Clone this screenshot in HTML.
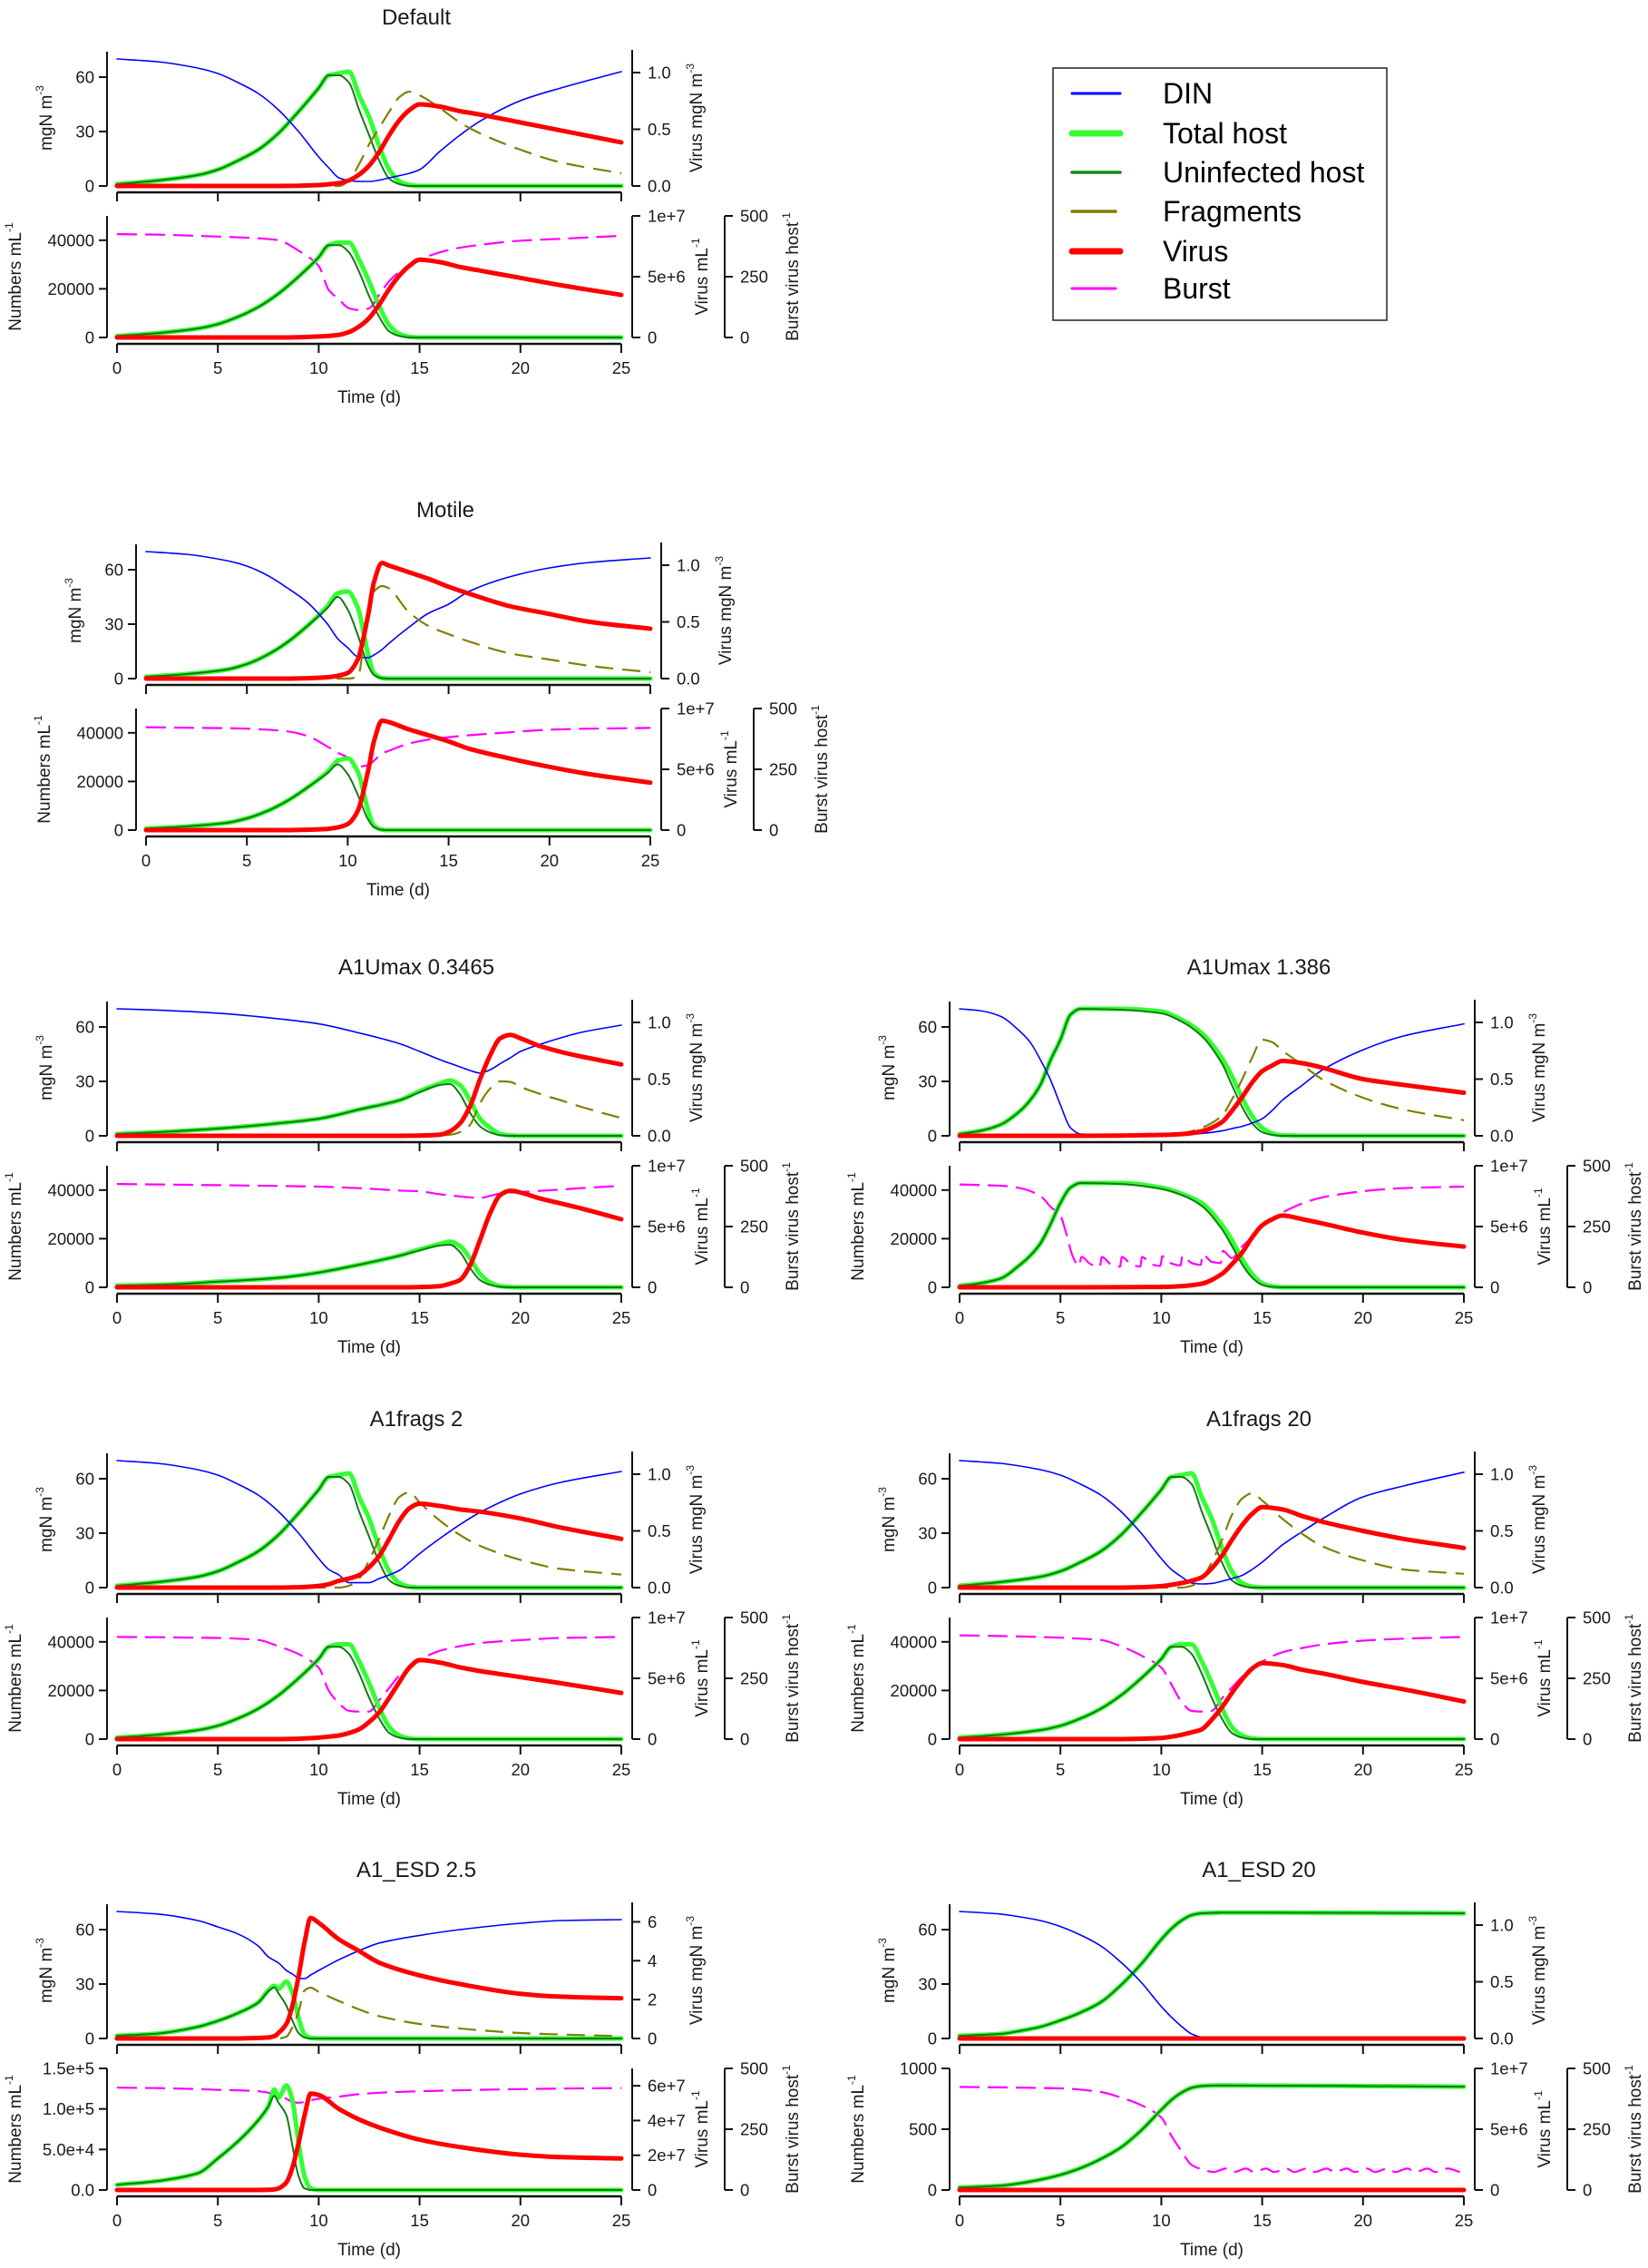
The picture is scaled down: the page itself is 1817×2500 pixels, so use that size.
<!DOCTYPE html>
<html><head><meta charset="utf-8"><title>Virus-host model scenarios</title>
<style>
html,body{margin:0;padding:0;background:#fff;}
svg{display:block;font-family:"Liberation Sans",Arial,sans-serif;}
</style></head>
<body>
<svg id="fig" xmlns="http://www.w3.org/2000/svg" width="1817" height="2500" viewBox="0 0 1817 2500">
<rect x="0" y="0" width="1817" height="2500" fill="#fff"/>
<g>
<rect x="1161" y="75" width="368" height="278" fill="none" stroke="#222" stroke-width="1.5"/>
<line x1="1182" y1="103" x2="1235" y2="103" stroke="#0000ff" stroke-width="3" stroke-linecap="round"/>
<text x="1282" y="114" font-size="32">DIN</text>
<line x1="1182" y1="147" x2="1235" y2="147" stroke="#33ff33" stroke-width="7" stroke-linecap="round"/>
<text x="1282" y="158" font-size="32">Total host</text>
<line x1="1182" y1="190" x2="1235" y2="190" stroke="#168a16" stroke-width="3.5" stroke-linecap="round"/>
<text x="1282" y="201" font-size="32">Uninfected host</text>
<line x1="1182" y1="233" x2="1230" y2="233" stroke="#808000" stroke-width="3.5" stroke-linecap="round"/>
<text x="1282" y="244" font-size="32">Fragments</text>
<line x1="1182" y1="277" x2="1235" y2="277" stroke="#ff0000" stroke-width="7" stroke-linecap="round"/>
<text x="1282" y="288" font-size="32">Virus</text>
<line x1="1182" y1="318" x2="1230" y2="318" stroke="#ff00ff" stroke-width="3" stroke-linecap="round"/>
<text x="1282" y="329" font-size="32">Burst</text>
</g>
</svg>
<script>
// ===== DATA =====
// Default
var def_t = [0,2,4,5,6,7,8,9,10,10.5,11,11.5,12,12.5,13,13.5,14,14.5,15,16,17,18,20,22,25];
var def_din = [70,68.5,65,62,57,51,42,30,16,10,4.5,3,2.5,2.5,3.2,4.5,5.7,7,9,19,28,35.7,47,54,63];
var def_host = [1,3,6,9,14,20,29,41,54,61,62,63,50,38,22,9,2.5,0.5,0,0,0,0,0,0,0];
var def_uninf = [1,3,6,9,14,20,29,41,54,61,61,57,42,28,14,4,1,0,0,0,0,0,0,0,0];
var def_frag = [0,0,0,0,0,0,0,0,0,0,0,3,12,23,32,41,49,52,50,43,35,29,20,13,7];
var def_virus = [0,0,0,0,0,0,0,0.002,0.008,0.015,0.025,0.05,0.1,0.18,0.3,0.45,0.58,0.67,0.72,0.7,0.66,0.63,0.56,0.49,0.385];
var def_hostN = [600,1800,3700,5500,8500,12500,18000,25000,33000,38000,39000,39000,32000,23000,13000,5000,1500,300,0,0,0,0,0,0,0];
var def_uninfN = [600,1800,3700,5500,8500,12500,18000,25000,33000,38000,38000,35000,27000,17000,8500,2500,600,0,0,0,0,0,0,0,0];
var def_virusN = [0,0,0,0,0,0,0,2e4,8e4,1.3e5,2.2e5,4.5e5,9e5,1.6e6,2.7e6,4e6,5.1e6,5.9e6,6.4e6,6.2e6,5.8e6,5.5e6,4.9e6,4.3e6,3.5e6];
var def_burst = [425,423,418,415,412,408,400,357,294,195,157,120,113,120,176,232,270,294,319,350,369,381,398,406,418];

// Motile
var mot_t = [0,2,4,5,6,7,8,9,9.5,10,10.5,11,11.3,11.7,12,13,14,15,16,18,20,22,25];
var mot_din = [70,68.5,65,62,57,50,42,30,22,17,12,11.5,13,16,19,28,36,41,48,56,61,64,66.5];
var mot_host = [1,2.5,5,8,13,20,29,40,47,48,39,14,3,0.3,0,0,0,0,0,0,0,0,0];
var mot_uninf = [1,2.5,5,8,13,20,29,39,45,38,24,7.5,2,0.2,0,0,0,0,0,0,0,0,0];
var mot_frag = [0,0,0,0,0,0,0,0,0,0,1,38,48,51,50,37,29,24.5,20.5,14,10.5,7,3.5];
var mot_virus = [0,0,0,0,0,0,0.003,0.012,0.025,0.05,0.17,0.55,0.85,1.02,1.0,0.94,0.88,0.81,0.75,0.64,0.57,0.5,0.44];
var mot_hostN = [600,1500,3000,4800,7800,12000,17500,24000,28500,29500,24000,8500,1800,200,0,0,0,0,0,0,0,0,0];
var mot_uninfN = [600,1500,3000,4800,7800,12000,17500,23500,27000,23000,14500,4500,1200,100,0,0,0,0,0,0,0,0,0];
var mot_virusN = [0,0,0,0,0,0,3e4,1e5,2.2e5,5e5,1.6e6,4.8e6,7.3e6,9e6,8.9e6,8.3e6,7.8e6,7.3e6,6.7e6,5.9e6,5.2e6,4.6e6,3.9e6];
var mot_burst = [423,421,419,417,413,406,387,343,318,299,261,267,285,315,325,355,372,382,390,402,413,417,420];

// A1Umax 0.3465
var u1_t = [0,2,5,8,10,12,14,15,16,16.5,17,17.5,18,18.5,19,19.5,20,21,22,23,25];
var u1_din = [70,69.3,67.6,64.5,61.7,56.7,50.8,46.5,42,40,38,36,34.6,36.4,39.8,43,46.5,50.5,54,57,61];
var u1_host = [1,2,4,6.9,9.4,14.5,19.6,24.6,28.8,30.5,28,19.6,9.4,4.4,1,0.2,0,0,0,0,0];
var u1_uninf = [1,2,4,6.9,9.4,14.5,19.6,24,28,28.5,23,12.8,5.2,1.9,0.3,0,0,0,0,0,0];
var u1_frag = [0,0,0,0,0,0,0,0,0.2,0.6,2,6,18,26,30,29.7,27,23,19.6,16,9.8];
var u1_virus = [0,0,0,0,0,0,0,0.002,0.01,0.04,0.11,0.26,0.5,0.71,0.86,0.89,0.86,0.79,0.74,0.7,0.63];
var u1_hostN = [700,1000,2300,3900,6100,9300,13000,15600,17800,18800,17000,12000,5500,2000,500,100,0,0,0,0,0];
var u1_uninfN = [700,1000,2300,3900,6100,9300,13000,15200,17200,17500,14500,8000,3000,1000,200,0,0,0,0,0,0];
var u1_virusN = [0,0,0,0,0,0,0,2e4,1e5,3e5,6e5,1.8e6,3.9e6,6.1e6,7.6e6,7.95e6,7.8e6,7.3e6,6.9e6,6.5e6,5.6e6];
var u1_burst = [425,423,420,417,414,408,398,395,383,378,374,370,368,376,386,389,392,397,402,408,417];

// A1Umax 1.386
var u2_t = [0,1,2,3,3.5,4,4.5,5,5.5,6,8,10,11,12,13,13.5,14,14.5,15,15.5,16,17,18,20,22,25];
var u2_din = [70,69,66,57.5,51.6,42,31,17,4.4,1,0.5,0.5,0.8,1.3,2.7,4,5.2,7,9.4,14,19.6,28,36.4,47.4,55,61.7];
var u2_host = [1,2.7,6,13.7,19.6,28,41.5,53,66.8,70,70,68.5,64,56.7,43,33,21,11,4.4,1.3,0.3,0,0,0,0,0];
var u2_uninf = [1,2.7,6,13.7,19.6,28,41.5,53,66.8,70,69.5,67.5,63,55,40,28,16,7,2,0.5,0,0,0,0,0,0];
var u2_frag = [0,0,0,0,0,0,0,0,0,0,0,0.2,1.3,4.4,11,20,31,43,53,51.6,47,39,31,21,14.5,8.6];
var u2_virus = [0,0,0,0,0,0,0,0,0,0,0.002,0.008,0.015,0.04,0.12,0.22,0.34,0.47,0.57,0.62,0.66,0.64,0.6,0.5,0.45,0.38];
var u2_hostN = [600,1650,3500,9300,13000,18000,25800,34700,41000,42900,42900,41000,38500,34700,25800,19400,11800,5500,1650,400,0,0,0,0,0,0];
var u2_uninfN = [600,1650,3500,9300,13000,18000,25800,34700,41000,42900,42500,40500,38000,33500,24000,17000,9500,4000,1000,200,0,0,0,0,0,0];
var u2_virusN = [0,0,0,0,0,0,0,0,0,0,1e4,3e4,1e5,3e5,1.1e6,1.9e6,2.85e6,4.1e6,5.1e6,5.6e6,5.9e6,5.6e6,5.25e6,4.5e6,3.9e6,3.35e6];
var u2_bt = [0,2,3,4,4.5,5,5.3,5.6,5.9,6.05,6.5,6.95,7.05,7.5,7.95,8.05,8.5,8.95,9.05,9.5,9.95,10.05,10.5,10.95,11.05,11.5,11.95,12.05,12.5,12.95,13.05,13.5,14,14.5,15,16,17,18,20,22,25];
var u2_burst = [423,418,408,376,332,294,218,130,88,125,95,85,125,95,85,125,95,85,125,95,88,128,98,90,130,100,92,135,105,100,150,120,168,206,256,307,345,370,395,408,414];

// A1frags 2
var f2_t = [0,2,4,5,6,7,8,9,10,10.5,11,11.5,12,12.5,13,13.5,14,14.5,15,16,17,18,20,22,25];
var f2_din = [70,68.5,65,62,57,51,42,30,16,10,7,2.7,2.7,2.7,5,7,9.5,14,18.7,27,34.7,41.5,51.6,58,64];
var f2_host = [1,3,6,9,14,20,29,41,54,61,62,63,50,38,22,9,2.5,0.5,0,0,0,0,0,0,0];
var f2_uninf = [1,3,6,9,14,20,29,41,54,61,61,57,42,28,14,4,1,0,0,0,0,0,0,0,0];
var f2_frag = [0,0,0,0,0,0,0,0,0,0,0,1,5,15,27,40,50,52.5,47,37,29,23,15.3,10.3,7.2];
var f2_virus = [0,0,0,0,0,0,0,0.003,0.015,0.03,0.06,0.08,0.11,0.18,0.28,0.43,0.59,0.7,0.74,0.72,0.69,0.67,0.61,0.53,0.43];
var f2_hostN = [600,1800,3700,5500,8500,12500,18000,25000,33000,38000,39000,39000,32000,23000,13000,5000,1500,300,0,0,0,0,0,0,0];
var f2_uninfN = [600,1800,3700,5500,8500,12500,18000,25000,33000,38000,38000,35000,27000,17000,8500,2500,600,0,0,0,0,0,0,0,0];
var f2_virusN = [0,0,0,0,0,0,0,3e4,1.2e5,2e5,3e5,5e5,8e5,1.4e6,2.2e6,3.4e6,4.7e6,5.9e6,6.5e6,6.3e6,5.9e6,5.6e6,5.1e6,4.6e6,3.8e6];
var f2_burst = [420,419,417,416,413,408,382,350,294,199,148,116,113,113,160,211,262,295,325,363,382,395,407,416,420];

// A1frags 20
var f20_t = [0,2,4,5,6,7,8,9,10,10.5,11,11.5,12,12.5,13,13.5,14,14.5,15,16,17,18,20,22,25];
var f20_din = [70,68.5,65,62,57,51,42,30,16,10,6,2.5,2,2.3,3.5,5,6.7,10,14,23.5,31,38,50,56,63.6];
var f20_host = [1,3,6,9,14,20,29,41,54,61,62,63,50,38,22,9,2.5,0.5,0,0,0,0,0,0,0];
var f20_uninf = [1,3,6,9,14,20,29,41,54,61,61,57,42,28,14,4,1,0,0,0,0,0,0,0,0];
var f20_frag = [0,0,0,0,0,0,0,0,0,0,0,1,5,14,26,40,49,52,48,38,29.5,22.7,15,10,7.6];
var f20_virus = [0,0,0,0,0,0,0,0.003,0.013,0.025,0.04,0.06,0.09,0.17,0.28,0.42,0.55,0.65,0.71,0.69,0.63,0.58,0.5,0.43,0.35];
var f20_hostN = [600,1800,3700,5500,8500,12500,18000,25000,33000,38000,39000,39000,32000,23000,13000,5000,1500,300,0,0,0,0,0,0,0];
var f20_uninfN = [600,1800,3700,5500,8500,12500,18000,25000,33000,38000,38000,35000,27000,17000,8500,2500,600,0,0,0,0,0,0,0,0];
var f20_virusN = [0,0,0,0,0,0,0,3e4,1e5,2e5,3.5e5,5.5e5,8e5,1.6e6,2.6e6,3.8e6,4.9e6,5.8e6,6.25e6,6.1e6,5.7e6,5.4e6,4.7e6,4.1e6,3.1e6];
var f20_burst = [427,424,420,417,413,408,382,344,294,225,154,116,113,116,167,212,256,290,319,357,375,389,405,413,420];

// A1_ESD 2.5
var e1_t = [0,2,4,5,6,7,7.5,7.8,8,8.4,8.7,9,9.3,9.6,10,11,12,13,15,17,20,22,25];
var e1_din = [70,68.6,65,61.5,57.6,51,45,43,41.7,37.5,35.5,33.3,33,35,37.5,43.4,48.4,52.6,56.8,60,63.5,65,65.5];
var e1_host = [1.5,2.7,6.4,9.7,14,19.8,26.5,29,27.4,31.3,25,11.4,2.2,0.3,0,0,0,0,0,0,0,0,0];
var e1_uninf = [1.5,2.7,6.4,9.7,14,19.8,26,28.2,25,18,9.7,3,0.5,0,0,0,0,0,0,0,0,0,0];
var e1_frag = [0,0,0,0,0,0,0,0,0,1,6.4,14.8,26.5,28,25.7,20.7,16,12.3,8,5.5,3,2.2,1.3];
var e1_virus = [0,0,0,0,0,0.03,0.05,0.12,0.28,0.75,1.7,3.2,4.95,6.2,5.95,5.1,4.5,3.9,3.25,2.8,2.3,2.15,2.07];
var e1_hostN = [6400,11000,20600,39000,60000,86000,103000,124000,114000,129000,110000,58000,17000,2000,0,0,0,0,0,0,0,0,0];
var e1_uninfN = [6400,11000,20600,39000,60000,86000,103000,116000,108000,92000,54000,17000,2000,0,0,0,0,0,0,0,0,0,0];
var e1_virusN = [0,0,0,0,0,0,1e5,3e5,9e5,4.4e6,1.3e7,2.7e7,4.3e7,5.55e7,5.47e7,4.67e7,4.06e7,3.6e7,2.9e7,2.47e7,2.03e7,1.89e7,1.82e7];
var e1_burst = [421,419,415,412,410,406,400,394,388,375,362,359,362,369,375,384,394,400,406,410,415,417,419];

// A1_ESD 20
var e2_t = [0,2,3,4,5,6,7,8,9,10,10.5,11,11.5,12,13,25];
var e2_din = [70,68.6,67,65,61.7,57,51,42,31,17.6,11.8,6.7,2.5,0.8,0.8,0.8];
var e2_host = [1.5,2.5,4.2,6.4,10,14.3,20,29.4,41,54.6,60.5,65,68,69,69.4,69];
var e2_uninf = [1.5,2.5,4.2,6.4,10,14.3,20,29.4,41,54.6,60.5,65,68,69,69.4,69];
var e2_frag = [0,0,0,0,0,0,0,0,0,0,0,0,0,0,0,0];
var e2_virus = [0,0,0,0,0,0,0,0,0,0,0,0,0,0,0,0];
var e2_hostN = [20,35,55,85,125,180,255,350,490,660,740,800,840,855,860,850];
var e2_uninfN = [20,35,55,85,125,180,255,350,490,660,740,800,840,855,860,850];
var e2_virusN = [0,0,0,0,0,0,0,0,0,0,0,0,0,0,0,0];
var e2_bt = [0,5,7,8,9,10,10.5,11,11.5,12,12.6,13.2,13.6,14.2,14.6,15.2,15.6,16.2,16.6,17.2,17.6,18.2,18.6,19.2,19.6,20.2,20.6,21.2,21.6,22.2,22.6,23.2,23.6,24.2,24.8];
var e2_burst = [424,418,403,380,349,298,223,160,103,85,74,88,74,88,74,88,74,88,74,88,74,88,74,88,74,88,74,88,74,88,74,88,74,88,74];

// Axis tick values / labels
var xTicks = [0,5,10,15,20,25];
var topLeftTicks = [0,30,60];
var topRightTicks = [0,0.5,1.0];
var topRightLabels = ["0.0","0.5","1.0"];
var botLeftTicks = [0,20000,40000];
var botRight1Ticks = [0,5e6,1e7];
var botRight1Labels = ["0","5e+6","1e+7"];
var burstTicks = [0,250,500];
var e1TopRightTicks = [0,2,4,6];
var e1BotLeftTicks = [0,5e4,1e5,1.5e5];
var e1BotLeftLabels = ["0.0","5.0e+4","1.0e+5","1.5e+5"];
var e1Right1Ticks = [0,2e7,4e7,6e7];
var e1Right1Labels = ["0","2e+7","4e+7","6e+7"];
var e2BotLeftTicks = [0,500,1000];

// ===== DRAWING =====
var SVGNS = "http://www.w3.org/2000/svg";
var root = document.getElementById("fig");
function mk(tag, attrs, parent){
  var e = document.createElementNS(SVGNS, tag);
  for (var k in attrs) { if (attrs[k] !== null && attrs[k] !== undefined) e.setAttribute(k, String(attrs[k])); }
  (parent || root).appendChild(e);
  return e;
}
function monoPath(xs, ys){
  var n = xs.length, i;
  if (n < 2) return "";
  var d = [], m = [];
  for (i = 0; i < n-1; i++) {
    var dx = xs[i+1]-xs[i];
    d.push(dx === 0 ? 0 : (ys[i+1]-ys[i])/dx);
  }
  m.push(d[0]);
  for (i = 1; i < n-1; i++) {
    if (d[i-1]*d[i] <= 0) m.push(0);
    else m.push(2/(1/d[i-1] + 1/d[i]));
  }
  m.push(d[n-2]);
  var s = "M" + xs[0].toFixed(1) + "," + ys[0].toFixed(1);
  for (i = 0; i < n-1; i++) {
    var h = xs[i+1]-xs[i];
    s += " C" + (xs[i]+h/3).toFixed(1) + "," + (ys[i]+m[i]*h/3).toFixed(1) + " " +
         (xs[i+1]-h/3).toFixed(1) + "," + (ys[i+1]-m[i+1]*h/3).toFixed(1) + " " +
         xs[i+1].toFixed(1) + "," + ys[i+1].toFixed(1);
  }
  return s;
}
function series(g, ts, vs, X, Yf, color, w, dash, nm){
  var xs = [], ys = [];
  for (var i = 0; i < ts.length; i++) { xs.push(X(ts[i])); ys.push(Yf(vs[i])); }
  var p = mk("path", {d: monoPath(xs, ys), fill:"none", stroke:color, "stroke-width":w,
    "stroke-linejoin":"round", "stroke-linecap": dash ? "butt" : "round"}, g);
  if (dash) p.setAttribute("stroke-dasharray", dash);
  
  
}
function txt(g, x, y, s, size, anchor, nm){
  var t = mk("text", {x:x, y:y, "font-size":size, "text-anchor":anchor, fill:"#1a1a1a"}, g);
  t.textContent = s;
  
  
  return t;
}
function supLabel(g, x, y, base, sup, nm){
  var t = mk("text", {x:x, y:y, "font-size":19, "text-anchor":"middle", fill:"#1a1a1a",
    transform:"rotate(-90 " + x + " " + y + ")"}, g);
  
  
  var a = mk("tspan", {}, t); a.textContent = base;
  var b = mk("tspan", {"font-size":12, dy:-9}, t); b.textContent = sup;
  return t;
}
function vAxis(g, x, yBot, yTop, ticks, labels, scale, side, nm){
  var a = mk("line", {x1:x, y1:yBot, x2:x, y2:yTop, stroke:"#111", "stroke-width":2}, g);
  
  
  for (var i = 0; i < ticks.length; i++) {
    var v = ticks[i];
    var y = scale(v);
    var dx = side === "left" ? -9 : 9;
    mk("line", {x1:x, y1:y, x2:x+dx, y2:y, stroke:"#111", "stroke-width":2}, g);
    var lx = side === "left" ? x-14 : x+17;
    txt(g, lx, y+6.5, labels ? labels[i] : String(v), 18.5, side === "left" ? "end" : "start", nm + '-tick-label');
  }
}
function hAxis(g, y, x0, x1, X, withLabels, nm){
  var a = mk("line", {x1:x0, y1:y, x2:x1, y2:y, stroke:"#111", "stroke-width":2.5}, g);
  
  
  for (var i = 0; i < xTicks.length; i++) {
    var x = X(xTicks[i]);
    mk("line", {x1:x, y1:y, x2:x, y2:y+10, stroke:"#111", "stroke-width":2}, g);
    if (withLabels) txt(g, x, y+33, String(xTicks[i]), 18.5, "middle", nm + '-tick-label');
  }
}

function drawPanel(c){
  var g = mk("g", {});
  
  
  var W = 556, x0 = c.x0, x1 = x0 + W, Y0 = c.Y, B = Y0 + 167;
  var X = function(t){ return x0 + t * W / 25; };
  var Yl = function(v){ return Y0 - v * 2; };
  var Yr = function(v){ return Y0 - v * 150 / c.topRightMax; };
  var Bl = function(v){ return B - v * 134 / c.botLeftMax; };
  var Br1 = function(v){ return B - v * 134 / c.botR1Max; };
  var Br2 = function(v){ return B - v * 134 / 500; };

  txt(g, x0 + 330, Y0 - 178, c.title, 24, "middle", "panel-title");

  series(g, c.t, c.host, X, Yl, "#33ff33", 5, null, "total-host-line");
  series(g, c.t, c.uninf, X, Yl, "#137a13", 2, null, "uninfected-host-line");
  series(g, c.t, c.din, X, Yl, "#0000ff", 1.6, null, "din-line");
  series(g, c.t, c.frag, X, Yl, "#808000", 2.2, "20,10", "fragments-line");
  series(g, c.t, c.virus, X, Yr, "#ff0000", 5, null, "virus-mgN-line");

  series(g, c.bt || c.t, c.burst, X, Br2, "#ff00ff", 2.2, "22,9", "burst-line");
  series(g, c.t, c.hostN, X, Bl, "#33ff33", 5, null, "total-host-numbers-line");
  series(g, c.t, c.uninfN, X, Bl, "#137a13", 2, null, "uninfected-host-numbers-line");
  series(g, c.t, c.virusN, X, Br1, "#ff0000", 5, null, "virus-numbers-line");

  vAxis(g, x0 - 11, Y0, Y0 - 148, topLeftTicks, null, Yl, "left", "top-left-axis");
  vAxis(g, x1 + 12, Y0, Y0 - 150, c.topRightTicks, c.topRightLabels, Yr, "right", "top-right-axis");
  hAxis(g, Y0 + 7, x0, x1, X, false, "top-x-axis");
  vAxis(g, x0 - 11, B, B - 134, c.botLeftTicks, c.botLeftLabels, Bl, "left", "bottom-left-axis");
  vAxis(g, x1 + 12, B, B - 134, c.botR1Ticks, c.botR1Labels, Br1, "right", "virus-numbers-axis");
  vAxis(g, x1 + 114, B, B - 134, burstTicks, null, Br2, "right", "burst-axis");
  hAxis(g, B + 7, x0, x1, X, true, "x-axis");

  supLabel(g, x0 - 72, Y0 - 75, "mgN m", "-3", "y-axis-title-mgN");
  supLabel(g, x0 - 106, B - 67, "Numbers mL", "-1", "y-axis-title-numbers");
  supLabel(g, x1 + 89, Y0 - 75, "Virus mgN m", "-3", "y-axis-title-virus-mgN");
  supLabel(g, x1 + 95, B - 67, "Virus mL", "-1", "y-axis-title-virus-numbers");
  supLabel(g, x1 + 195, B - 67, "Burst virus host", "-1", "y-axis-title-burst");
  txt(g, x0 + 278, Y0 + 239, "Time (d)", 19, "middle", "x-axis-title");
}

function withBase(extra){
  var o = {topRightMax:1.2, topRightTicks:topRightTicks, topRightLabels:topRightLabels,
    botLeftMax:50000, botLeftTicks:botLeftTicks, botLeftLabels:null,
    botR1Max:1e7, botR1Ticks:botRight1Ticks, botR1Labels:botRight1Labels, bt:null};
  for (var k in extra) o[k] = extra[k];
  return o;
}

var panelList = [
  withBase({name:"panel-default", title:"Default", x0:129, Y:205,
    t:def_t, din:def_din, host:def_host, uninf:def_uninf, frag:def_frag, virus:def_virus,
    hostN:def_hostN, uninfN:def_uninfN, virusN:def_virusN, burst:def_burst}),
  withBase({name:"panel-motile", title:"Motile", x0:161, Y:748,
    t:mot_t, din:mot_din, host:mot_host, uninf:mot_uninf, frag:mot_frag, virus:mot_virus,
    hostN:mot_hostN, uninfN:mot_uninfN, virusN:mot_virusN, burst:mot_burst}),
  withBase({name:"panel-a1umax-0-3465", title:"A1Umax 0.3465", x0:129, Y:1252,
    t:u1_t, din:u1_din, host:u1_host, uninf:u1_uninf, frag:u1_frag, virus:u1_virus,
    hostN:u1_hostN, uninfN:u1_uninfN, virusN:u1_virusN, burst:u1_burst}),
  withBase({name:"panel-a1umax-1-386", title:"A1Umax 1.386", x0:1058, Y:1252,
    t:u2_t, din:u2_din, host:u2_host, uninf:u2_uninf, frag:u2_frag, virus:u2_virus,
    hostN:u2_hostN, uninfN:u2_uninfN, virusN:u2_virusN, bt:u2_bt, burst:u2_burst}),
  withBase({name:"panel-a1frags-2", title:"A1frags 2", x0:129, Y:1750,
    t:f2_t, din:f2_din, host:f2_host, uninf:f2_uninf, frag:f2_frag, virus:f2_virus,
    hostN:f2_hostN, uninfN:f2_uninfN, virusN:f2_virusN, burst:f2_burst}),
  withBase({name:"panel-a1frags-20", title:"A1frags 20", x0:1058, Y:1750,
    t:f20_t, din:f20_din, host:f20_host, uninf:f20_uninf, frag:f20_frag, virus:f20_virus,
    hostN:f20_hostN, uninfN:f20_uninfN, virusN:f20_virusN, burst:f20_burst}),
  withBase({name:"panel-a1-esd-2-5", title:"A1_ESD 2.5", x0:129, Y:2247,
    topRightMax:7, topRightTicks:e1TopRightTicks, topRightLabels:null,
    botLeftMax:1.5e5, botLeftTicks:e1BotLeftTicks, botLeftLabels:e1BotLeftLabels,
    botR1Max:7e7, botR1Ticks:e1Right1Ticks, botR1Labels:e1Right1Labels,
    t:e1_t, din:e1_din, host:e1_host, uninf:e1_uninf, frag:e1_frag, virus:e1_virus,
    hostN:e1_hostN, uninfN:e1_uninfN, virusN:e1_virusN, burst:e1_burst}),
  withBase({name:"panel-a1-esd-20", title:"A1_ESD 20", x0:1058, Y:2247,
    botLeftMax:1000, botLeftTicks:e2BotLeftTicks, botLeftLabels:null,
    t:e2_t, din:e2_din, host:e2_host, uninf:e2_uninf, frag:e2_frag, virus:e2_virus,
    hostN:e2_hostN, uninfN:e2_uninfN, virusN:e2_virusN, bt:e2_bt, burst:e2_burst})
];
for (var pi = 0; pi < panelList.length; pi++) {
  try { drawPanel(panelList[pi]); } catch (err) { }
}
</script>
</body></html>
